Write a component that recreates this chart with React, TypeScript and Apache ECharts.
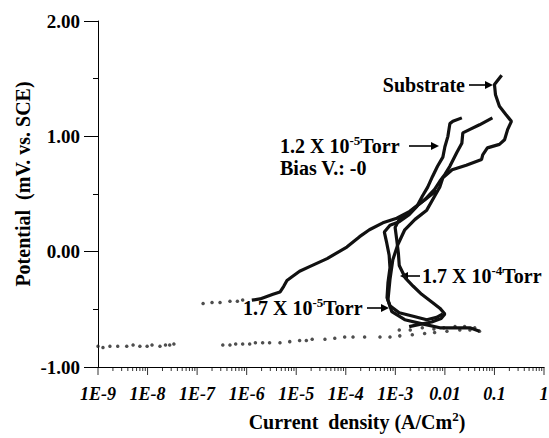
import React, { useEffect, useRef } from "react";
import * as echarts from "echarts";

const FONT = "Liberation Serif, Times New Roman, serif";

// Tick labels
const xTickLabels = ["1E-9", "1E-8", "1E-7", "1E-6", "1E-5", "1E-4", "1E-3", "0.01", "0.1", "1"];
const yTickLabels = ["-1.00", "0.00", "1.00", "2.00"];

// [current density (A/cm2), potential]
const substrate: number[][] = [
  [0.14, 1.53], [0.1, 1.45], [0.105, 1.36], [0.126, 1.26], [0.17, 1.19], [0.22, 1.13],
  [0.185, 1.06], [0.16, 0.97], [0.126, 0.93], [0.072, 0.9], [0.058, 0.84], [0.055, 0.8],
  [0.027, 0.75], [0.014, 0.71], [0.0091, 0.64], [0.0079, 0.56], [0.0062, 0.48], [0.0043, 0.36],
  [0.0025, 0.28], [0.00155, 0.19], [0.00112, 0.06], [0.00089, -0.07], [0.00078, -0.24],
  [0.00071, -0.42], [0.00085, -0.52], [0.00155, -0.59], [0.0039, -0.63], [0.0079, -0.66],
  [0.02, -0.66], [0.032, -0.66], [0.05, -0.69],
];

const torr12e5: number[][] = [
  [0.022, 1.16], [0.0145, 1.13], [0.0126, 1.11], [0.0115, 1.0], [0.01, 0.91], [0.0091, 0.82],
  [0.0071, 0.74], [0.0056, 0.65], [0.0045, 0.56], [0.0035, 0.48], [0.0027, 0.39], [0.0019, 0.32],
  [0.0012, 0.26], [0.00078, 0.23], [0.0006, 0.17], [0.00066, 0.09], [0.00075, -0.03],
  [0.00078, -0.14], [0.00071, -0.27], [0.00068, -0.4], [0.00078, -0.47], [0.0012, -0.53],
  [0.0023, -0.56], [0.0043, -0.59], [0.0068, -0.57], [0.0091, -0.54],
];

const torr17e4: number[][] = [
  [0.0068, 0.53], [0.0045, 0.47], [0.0028, 0.4], [0.0018, 0.33], [0.0012, 0.28], [0.00099, 0.21],
  [0.00107, 0.1], [0.00115, -0.01], [0.0012, -0.12], [0.0016, -0.23], [0.0023, -0.3],
  [0.0034, -0.37], [0.0056, -0.44], [0.0079, -0.49], [0.01, -0.54], [0.0084, -0.58],
  [0.0054, -0.61], [0.0031, -0.63], [0.0019, -0.65],
];

const torr17e5: number[][] = [
  [1.27e-6, -0.42], [1.86e-6, -0.41], [3.4e-6, -0.37], [4.7e-6, -0.35], [5.6e-6, -0.3],
  [6.5e-6, -0.25], [8.1e-6, -0.22], [1.17e-5, -0.17], [1.86e-5, -0.13], [4.2e-5, -0.06],
  [1.05e-4, 0.04], [1.9e-4, 0.13], [3.0e-4, 0.19], [5.6e-4, 0.25], [1.07e-3, 0.29],
  [1.95e-3, 0.35], [3.9e-3, 0.45], [6.2e-3, 0.54], [7.9e-3, 0.61], [0.01, 0.67], [0.0126, 0.74],
  [0.0174, 0.86], [0.022, 0.94], [0.023, 1.03], [0.032, 1.06], [0.05, 1.1], [0.091, 1.16],
];

const torr17e5Dots: number[][] = [
  [1.32e-7, -0.45], [2.0e-7, -0.44], [2.9e-7, -0.44], [4.6e-7, -0.43], [6.5e-7, -0.43], [8.3e-7, -0.42],
];

const cathodicDots: number[][] = [
  [1.0e-9, -0.82], [1.26e-9, -0.83], [1.74e-9, -0.82], [2.5e-9, -0.82], [3.8e-9, -0.82],
  [5.1e-9, -0.81], [7.0e-9, -0.82], [9.8e-9, -0.82], [1.23e-8, -0.81], [1.78e-8, -0.82],
  [2.3e-8, -0.81], [2.8e-8, -0.81], [3.4e-8, -0.8],
  [3.3e-7, -0.81], [4.6e-7, -0.81], [6.0e-7, -0.8], [8.3e-7, -0.8], [1.15e-6, -0.8],
  [1.5e-6, -0.79], [2.1e-6, -0.79], [2.9e-6, -0.79], [4.7e-6, -0.79], [7.4e-6, -0.78],
  [1.17e-5, -0.77], [1.6e-5, -0.77], [2.1e-5, -0.76], [3.8e-5, -0.76], [6.0e-5, -0.75],
  [9.5e-5, -0.74], [1.4e-4, -0.74], [2.4e-4, -0.74], [4.9e-4, -0.74], [7.8e-4, -0.74],
  [1.23e-3, -0.73], [2.2e-3, -0.72], [3.9e-3, -0.71], [6.2e-3, -0.7], [0.011, -0.69],
  [0.02, -0.68], [0.032, -0.68], [0.05, -0.69], [0.04, -0.66], [0.025, -0.65], [0.016, -0.65],
  [0.0095, -0.66], [0.006, -0.67], [0.0035, -0.66], [0.002, -0.68], [0.0012, -0.68],
];

// Axis tick positions (decades and 2..9 within each decade)
const xMajor = [1e-9, 1e-8, 1e-7, 1e-6, 1e-5, 1e-4, 1e-3, 1e-2, 1e-1, 1];
const xMinor: number[] = [];
for (let d = 0; d < xMajor.length - 1; d++) for (let k = 2; k <= 9; k++) xMinor.push(xMajor[d] * k);

function arrow(x1: number, y: number, x2: number) {
  const dir = x2 > x1 ? 1 : -1;
  return [
    { type: "line", shape: { x1, y1: y, x2: x2 - dir * 4, y2: y }, style: { stroke: "#000", lineWidth: 1.6 } },
    {
      type: "polygon",
      shape: { points: [[x2, y], [x2 - dir * 8, y - 4], [x2 - dir * 8, y + 4]] },
      style: { fill: "#000" },
    },
  ];
}

function label(x: number, y: number, text: string, align = "left") {
  return {
    type: "text",
    x,
    y,
    style: {
      text,
      textAlign: align,
      textVerticalAlign: "middle",
      fill: "#000",
      rich: {
        n: { fontFamily: FONT, fontSize: 20, fontWeight: "bold", lineHeight: 24, fill: "#000" },
        s: { fontFamily: FONT, fontSize: 13, fontWeight: "bold", lineHeight: 11, verticalAlign: "top", fill: "#000" },
      },
    },
  };
}

export default function App() {
  const ref = useRef<HTMLDivElement>(null);
  useEffect(() => {
    const chart = echarts.init(ref.current!, null, { renderer: "svg" });
    const lineStyle = { color: "#111", width: 3.2 };
    const mkLine = (name: string, data: number[][]) => ({
      name, type: "line", data, symbol: "none", showSymbol: false, lineStyle, silent: true,
    });
    const mkDots = (name: string, data: number[][]) => ({
      name, type: "scatter", data, symbol: "circle", symbolSize: 3.5, itemStyle: { color: "#222" }, silent: true,
    });
    const mkTicks = (name: string, values: number[], len: number) => ({
      name,
      type: "scatter",
      data: values.map((v) => [v, -1]),
      symbol: "rect",
      symbolSize: [1, len],
      symbolOffset: [0, len / 2],
      itemStyle: { color: "#000" },
      clip: false,
      silent: true,
      z: 5,
    });
    chart.setOption({
      animation: false,
      backgroundColor: "#fff",
      grid: { left: 98, right: 5, top: 21, bottom: 71, containLabel: false, outerBoundsMode: "none" },
      xAxis: {
        type: "log",
        logBase: 10,
        min: 1e-9,
        max: 1,
        splitNumber: 9,
        axisLine: { show: true, onZero: false, lineStyle: { color: "#000", width: 1 } },
        axisTick: { show: false },
        axisLabel: {
          show: true,
          margin: 18,
          fontFamily: FONT,
          fontSize: 18,
          fontWeight: "bold",
          fontStyle: "italic",
          color: "#000",
          customValues: xMajor,
          formatter: (v: number) => xTickLabels[Math.round(Math.log10(v)) + 9] ?? "",
        },
        splitLine: { show: false },
        minorTick: { show: false },
      },
      yAxis: {
        type: "value",
        min: -1,
        max: 2,
        interval: 1,
        axisLine: { show: true, onZero: false, lineStyle: { color: "#000", width: 1 } },
        axisTick: { show: true, length: 14, lineStyle: { color: "#000" } },
        minorTick: { show: true, splitNumber: 2, length: 5, lineStyle: { color: "#000" } },
        axisLabel: {
          margin: 18,
          fontFamily: FONT,
          fontSize: 19,
          fontWeight: "bold",
          color: "#000",
          formatter: (v: number) => yTickLabels[Math.round(v) + 1] ?? "",
        },
        splitLine: { show: false },
      },
      series: [
        mkLine("Substrate", substrate),
        mkLine("1.2 X 10-5 Torr", torr12e5),
        mkLine("1.7 X 10-4 Torr", torr17e4),
        mkLine("1.7 X 10-5 Torr", torr17e5),
        mkDots("1.7 X 10-5 Torr cathodic", torr17e5Dots),
        mkDots("cathodic", cathodicDots),
        mkTicks("major ticks", xMajor, 8),
        mkTicks("minor ticks", xMinor, 4),
      ],
      graphic: [
        {
          type: "text",
          x: 23,
          y: 184,
          rotation: Math.PI / 2,
          style: {
            text: "Potential  (mV. vs. SCE)",
            textAlign: "center",
            textVerticalAlign: "middle",
            fontFamily: FONT,
            fontSize: 20,
            fontWeight: "bold",
            fill: "#000",
          },
        },
        {
          type: "text",
          x: 357,
          y: 422,
          style: {
            text: "{n|Current  density (A/Cm}{s|2}{n|)}",
            textAlign: "center",
            textVerticalAlign: "middle",
            rich: {
              n: { fontFamily: FONT, fontSize: 20, fontWeight: "bold", lineHeight: 24, fill: "#000" },
              s: { fontFamily: FONT, fontSize: 13, fontWeight: "bold", lineHeight: 12, verticalAlign: "top", fill: "#000" },
            },
          },
        },
        label(465, 85, "{n|Substrate}", "right"),
        ...arrow(469, 85, 493),
        label(280, 146, "{n|1.2 X 10}{s|-5}{n|Torr}"),
        ...arrow(409, 146, 439),
        label(280, 168, "{n|Bias V.: -0}"),
        ...arrow(420, 276, 400),
        label(422, 276, "{n|1.7 X 10}{s|-4}{n|Torr}"),
        label(243, 308, "{n|1.7 X 10}{s|-5}{n|Torr}"),
        ...arrow(367, 308, 389),
      ],
    });
    return () => chart.dispose();
  }, []);
  return (
    <div
      ref={ref}
      style={{ position: "fixed", left: 0, top: 0, width: 549, height: 438, background: "#fff" }}
    />
  );
}
